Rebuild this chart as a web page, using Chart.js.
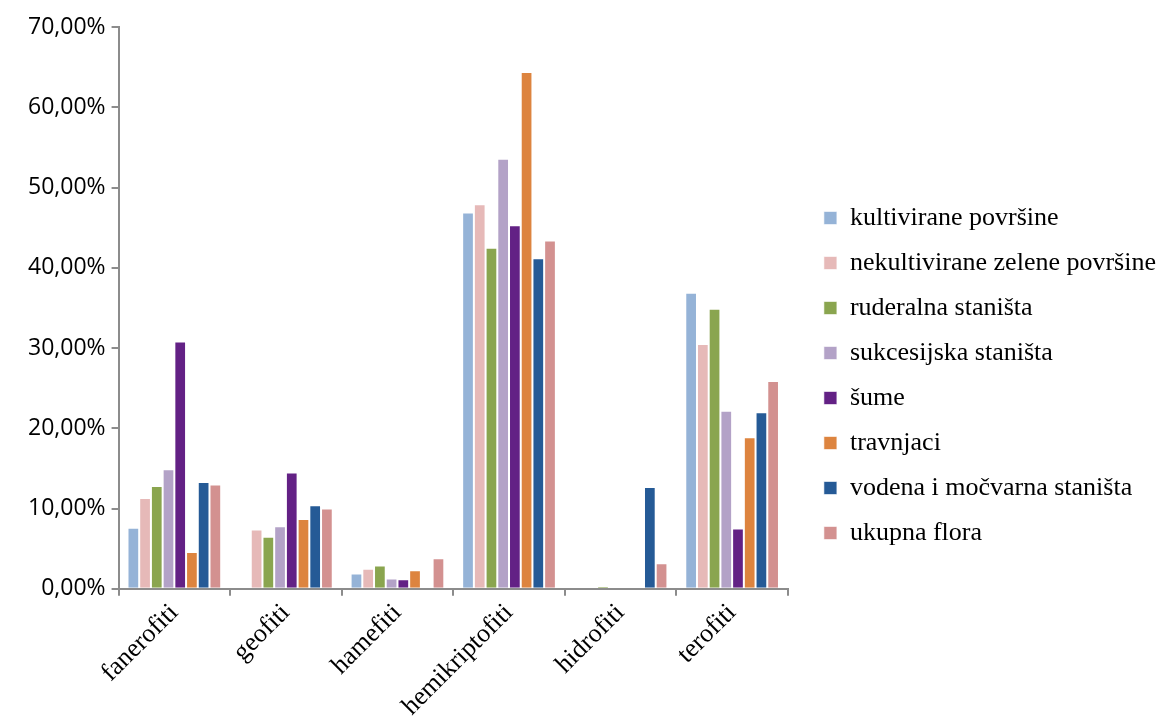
<!DOCTYPE html>
<html>
<head>
<meta charset="utf-8">
<script src="https://cdn.jsdelivr.net/npm/chart.js@4.4.0/dist/chart.umd.min.js"></script>
<style>
  html, body { margin: 0; padding: 0; background: #fff; }
  #wrap { width: 1166px; height: 724px; }
</style>
</head>
<body>
<div id="wrap"><canvas id="myChart" width="1166" height="724"></canvas></div>
<script>
const categories = ['fanerofiti', 'geofiti', 'hamefiti', 'hemikriptofiti', 'hidrofiti', 'terofiti']

const kultivirane = [7.6, 0, 1.9, 46.9, 0, 36.9]
const nekultivirane = [11.3, 7.4, 2.5, 47.9, 0, 30.5]
const ruderalna = [12.8, 6.5, 2.9, 42.5, 0.3, 34.9]
const sukcesijska = [14.9, 7.8, 1.3, 53.6, 0, 22.2]
const sume = [30.8, 14.5, 1.2, 45.3, 0, 7.5]
const travnjaci = [4.6, 8.7, 2.3, 64.4, 0, 18.9]
const vodena = [13.3, 10.4, 0, 41.2, 12.7, 22.0]
const ukupna = [13.0, 10.0, 3.8, 43.4, 3.2, 25.9]

const seriesNames = ['kultivirane površine', 'nekultivirane zelene površine', 'ruderalna staništa',
  'sukcesijska staništa', 'šume', 'travnjaci', 'vodena i močvarna staništa', 'ukupna flora']
const seriesData = [kultivirane, nekultivirane, ruderalna, sukcesijska, sume, travnjaci, vodena, ukupna]
const colors = ['#95b3d7', '#e6b9b8', '#8aa54f', '#b3a2c7', '#632185', '#dd843f', '#255a96', '#d39190']

const axisColor = '#8c8c8c'
const serif = '"Liberation Serif", "Times New Roman", serif'

const ctx = document.getElementById('myChart')
const chart = new Chart(ctx, {
  type: 'bar',
  data: {
    labels: categories,
    datasets: seriesData.map((d, i) => ({
      label: seriesNames[i],
      data: d,
      backgroundColor: colors[i],
      borderColor: 'rgba(255,255,255,0.6)',
      borderWidth: 1,
      categoryPercentage: 0.84,
      barPercentage: 1
    }))
  },
  options: {
    responsive: false,
    animation: false,
    layout: { padding: { top: 27, right: 0, left: 22, bottom: 0 } },
    plugins: {
      tooltip: { enabled: false },
      legend: {
        position: 'right',
        align: 'center',
        maxWidth: 400,
        labels: {
          boxWidth: 13,
          boxHeight: 13,
          padding: 19,
          color: '#000',
          font: { family: serif, size: 26 }
        }
      }
    },
    scales: {
      x: {
        grid: { display: true, drawOnChartArea: false, offset: true, color: axisColor, tickLength: 7, lineWidth: 2 },
        border: { display: true, color: axisColor, width: 2 },
        ticks: {
          color: '#000',
          minRotation: 45,
          maxRotation: 45,
          padding: 2,
          font: { family: serif, size: 26 }
        }
      },
      y: {
        min: 0,
        max: 70,
        grid: { display: true, drawOnChartArea: false, color: axisColor, tickLength: 7, lineWidth: 2 },
        border: { display: true, color: axisColor, width: 2 },
        ticks: {
          stepSize: 10,
          color: '#000',
          padding: 6,
          font: { family: '"Open Sans", sans-serif', size: 23 },
          callback: v => v.toFixed(2).replace('.', ',') + '%'
        }
      },
      // empty spacer between plot and legend
      gap: {
        position: 'right',
        min: 0,
        max: 1,
        grid: { display: false },
        border: { display: false },
        ticks: { display: false },
        afterFit: s => { s.width = 17 }
      }
    }
  }
})
</script>
</body>
</html>
